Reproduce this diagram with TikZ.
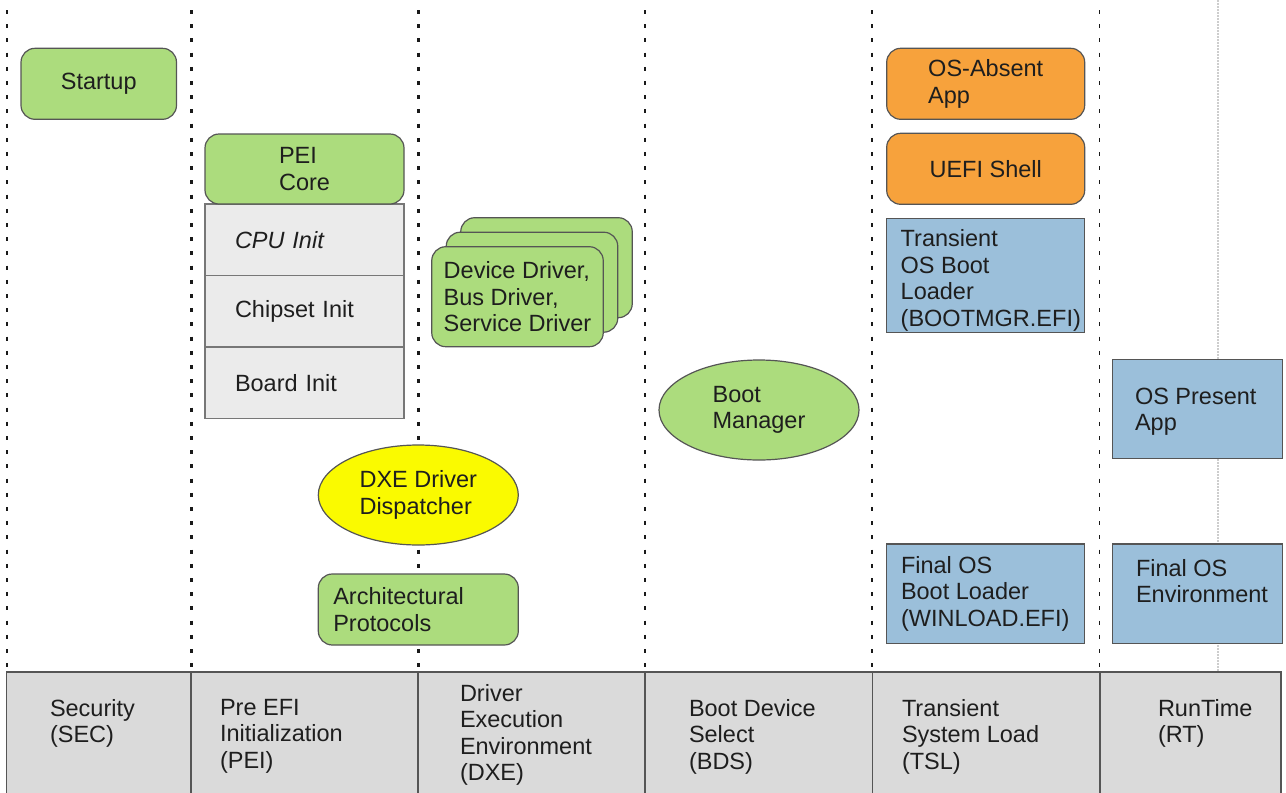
\documentclass[tikz,border=0pt]{standalone}
\usepackage{fontspec}
\setmainfont{Liberation Sans}
\usetikzlibrary{shapes.geometric}
\hyphenpenalty=10000
\exhyphenpenalty=10000
\definecolor{gfill}{RGB}{172,220,125}
\definecolor{ofill}{RGB}{247,162,60}
\definecolor{bfill}{RGB}{155,191,218}
\definecolor{yfill}{RGB}{250,250,0}
\definecolor{cfill}{RGB}{235,235,235}
\definecolor{barfill}{RGB}{218,218,218}
\definecolor{bordc}{RGB}{85,85,85}
\definecolor{txtc}{RGB}{30,30,30}
\definecolor{dotc}{RGB}{25,25,25}
\definecolor{lightdot}{RGB}{205,205,205}
\begin{document}
\begin{tikzpicture}[x=1pt,y=-1pt,
  every node/.style={text=txtc, font=\fontsize{23.5pt}{26.5pt}\selectfont},
  base/.style={draw=bordc, line width=1.2pt, inner sep=0pt, outer sep=0pt},
  gbox/.style={base, rectangle, fill=gfill, rounded corners=14pt, align=left},
  obox/.style={base, rectangle, fill=ofill, rounded corners=14pt, align=left},
  bbox/.style={base, rectangle, fill=bfill},
  cell/.style={base, rectangle, fill=cfill, draw=bordc!80, inner xsep=30pt, text width=139pt, minimum height=71.5pt, align=left},
  oval/.style={base, ellipse, minimum width=200pt, minimum height=100pt, align=left},
  lbl/.style={anchor=north west, inner sep=0pt, outer sep=0pt, align=left},
  thickdots/.style={draw=dotc, line width=3pt, dash pattern=on 4pt off 10.2pt},
  thindots/.style={draw=dotc, line width=1.8pt, dash pattern=on 4pt off 10.2pt},
  graydots/.style={draw=lightdot, line width=2pt, dash pattern=on 1.5pt off 1.5pt},
  barline/.style={draw=bordc, line width=1.3pt},
]
\useasboundingbox (0,0) rectangle (1286,793);

% phase separators
\coordinate (s0t) at (6.7,10);   \coordinate (s0b) at (6.7,672);
\coordinate (s1t) at (191,10);   \coordinate (s1b) at (191,672);
\coordinate (s2t) at (418.3,10); \coordinate (s2b) at (418.3,672);
\coordinate (s3t) at (645,10);   \coordinate (s3b) at (645,672);
\coordinate (s4t) at (872,10);   \coordinate (s4b) at (872,672);
\coordinate (s5t) at (1099.5,10);\coordinate (s5b) at (1099.5,672);
\coordinate (s6t) at (1217.5,0); \coordinate (s6b) at (1217.5,672);
\draw[thindots] (s0t) -- (s0b);
\draw[thickdots] (s1t) -- (s1b);
\draw[thickdots] (s2t) -- (s2b);
\draw[thindots] (s3t) -- (s3b);
\draw[thindots] (s4t) -- (s4b);
\draw[thindots] (s5t) -- (s5b);
\draw[graydots] (s6t) -- (s6b);

% bottom bar
\draw[barline, fill=barfill] (6.5,672) rectangle (1281,800);
\foreach \x in {191,418,645,872.5,1100}
  \draw[barline] (\x,672) -- (\x,800);

\node[lbl] (sec) at (50,699) {Security\\(SEC)};
\node[lbl] (pei) at (220,699) {Pre EFI\\Initialization\\(PEI)};
\node[lbl] (dxe) at (460,684) {Driver\\Execution\\Environment\\(DXE)};
\node[lbl] (bds) at (689,699) {Boot Device\\Select\\(BDS)};
\node[lbl] (tsl) at (902,699) {Transient\\System Load\\(TSL)};
\node[lbl] (rt) at (1158,699) {RunTime\\(RT)};

% SEC
\node[gbox, minimum width=155.5pt, minimum height=71pt] (startup) at (98.75,83.8) {Startup};

% PEI
\node[cell] (cpu) at (304.5,239.75) {\itshape CPU Init};
\node[cell] (chipset) at (304.5,311.25) {Chipset Init};
\node[cell] (board) at (304.5,382.75) {Board Init};
\node[gbox, minimum width=199pt, minimum height=70pt] (peicore) at (304.5,169) {PEI\\Core};

% DXE
\node[gbox, minimum width=171.5pt, minimum height=100pt] (drv3) at (546.5,267.7) {};
\node[gbox, minimum width=171.5pt, minimum height=100pt] (drv2) at (532,282.2) {};
\node[gbox, minimum width=171.5pt, minimum height=100pt] (drv1) at (517.5,296.7) {Device Driver,\\Bus Driver,\\Service Driver};
\node[oval, fill=yfill] (disp) at (418.3,495) {DXE Driver\\Dispatcher};
\node[gbox, inner xsep=15pt, text width=170pt, minimum height=71pt] (arch) at (418.3,609.5) {Architectural\\Protocols};

% BDS
\node[oval, fill=gfill] (bootmgr) at (759,410) {Boot\\Manager};

% TSL
\node[obox, minimum width=198pt, minimum height=71pt] (osabs) at (985.7,83.8) {OS-Absent\\App};
\node[obox, minimum width=198pt, minimum height=71pt] (shell) at (985.7,168.8) {UEFI Shell};
\node[bbox, minimum width=198pt, minimum height=114.4pt] (tobl) at (985.7,275.5) {};
\node[lbl] (toblt) at (900.7,229.7) {Transient\\OS Boot\\Loader\\(BOOTMGR.EFI)};
\node[bbox, minimum width=198pt, minimum height=99.3pt] (fobl) at (985.7,593.7) {};
\node[lbl] (foblt) at (901,556.3) {Final OS\\Boot Loader\\(WINLOAD.EFI)};

% RT
\node[bbox, minimum width=170.4pt, minimum height=99pt] (osp) at (1197.5,408.8) {};
\node[lbl] (ospt) at (1135,388) {OS Present\\App};
\node[bbox, minimum width=170.4pt, minimum height=99.3pt] (foe) at (1197.5,593.7) {};
\node[lbl] (foet) at (1136,559) {Final OS\\Environment};
\end{tikzpicture}
\end{document}
